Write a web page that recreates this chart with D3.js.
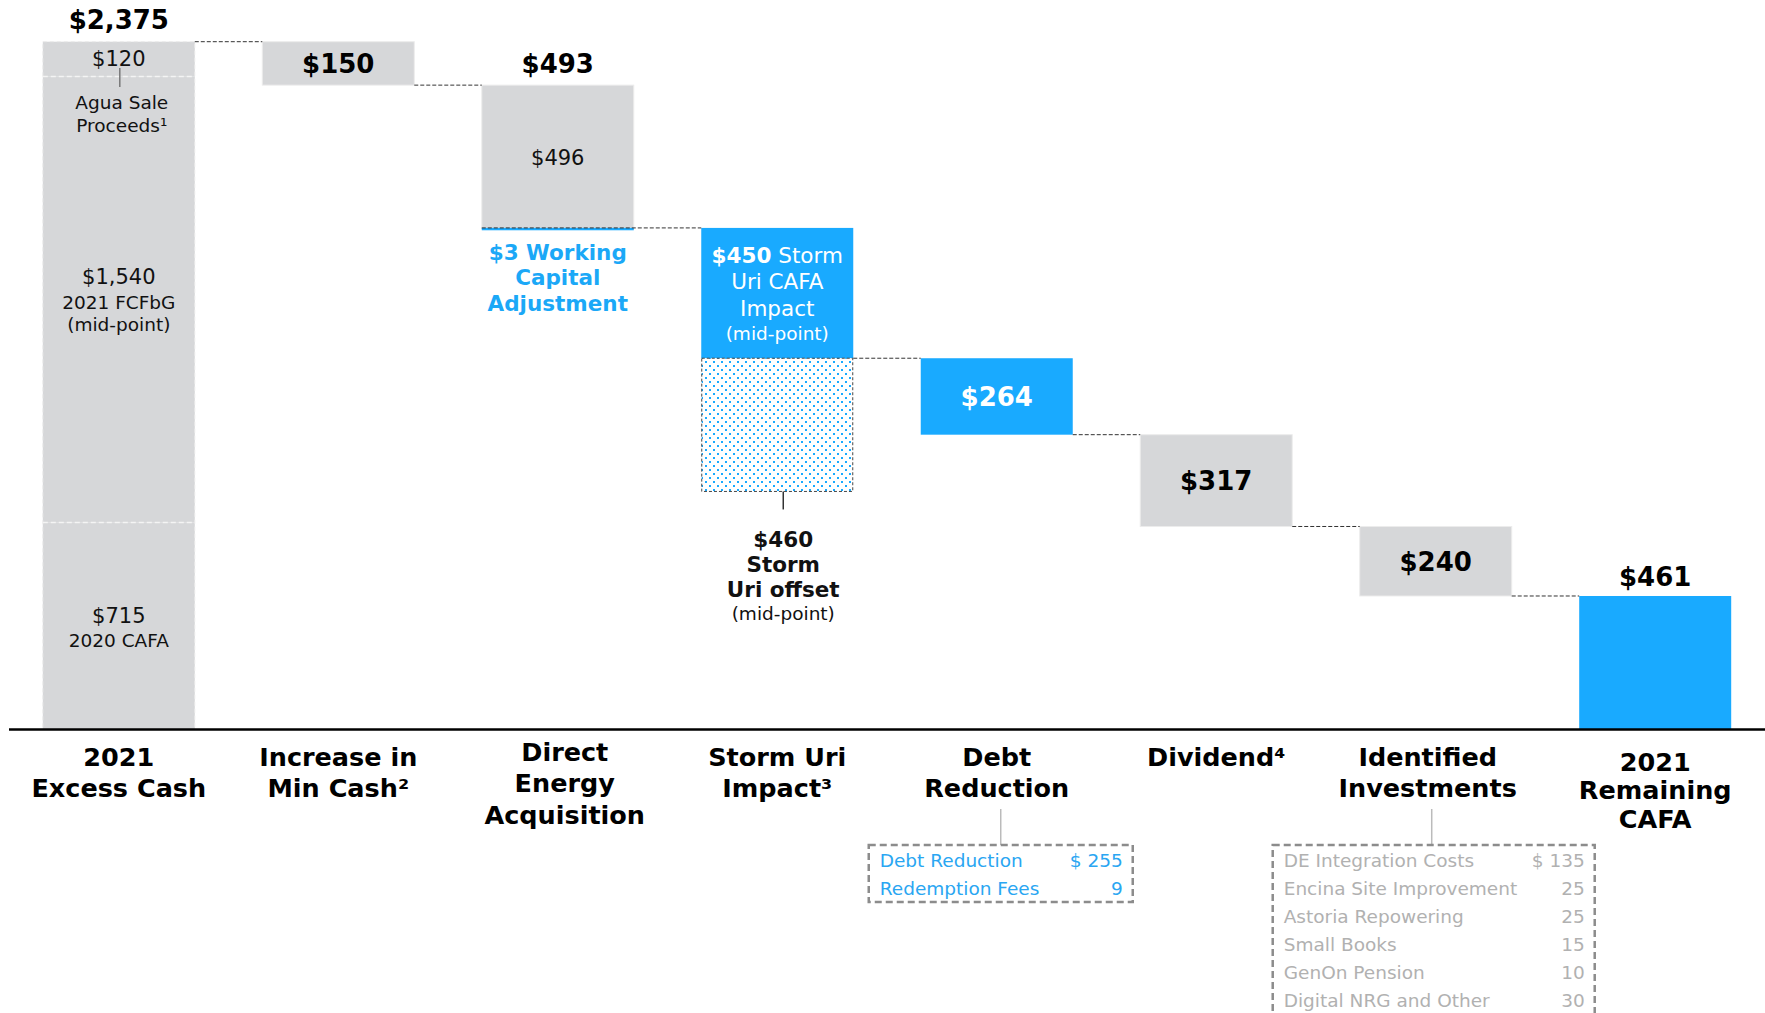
<!DOCTYPE html>
<html>
<head>
<meta charset="utf-8">
<script src="https://cdnjs.cloudflare.com/ajax/libs/d3/7.8.5/d3.min.js"></script>
<style>
  body { margin: 0; background: #fff; }
  svg { display: block; font-family: 'DejaVu Sans', Verdana, sans-serif; }
</style>
</head>
<body>
<div id="chart"></div>
<script>
const categories = ['2021 Excess Cash', 'Increase in Min Cash', 'Direct Energy Acquisition', 'Storm Uri Impact',
  'Debt Reduction', 'Dividend', 'Identified Investments', '2021 Remaining CAFA'];
const categoryLines = [['2021', 'Excess Cash'], ['Increase in', 'Min Cash²'], ['Direct', 'Energy', 'Acquisition'],
  ['Storm Uri', 'Impact³'], ['Debt', 'Reduction'], ['Dividend⁴'], ['Identified', 'Investments'], ['2021', 'Remaining', 'CAFA']];

// 2021 excess cash, stacked bottom to top
const excessParts = [715, 1540, 120];
const excessLabels = [['$715', '2020 CAFA'], ['$1,540', '2021 FCFbG', '(mid-point)'], ['$120']];

const minCash = 150;
const directEnergy = 496;
const workingCapital = 3;
const stormUri = 450;
const stormUriOffset = 460;
const debtReduction = 264;
const dividend = 317;
const investments = 240;
const remainingCafa = 461;

const debtItems = ['Debt Reduction', 'Redemption Fees'];
const debtValues = ['$ 255', '9'];
const investItems = ['DE Integration Costs', 'Encina Site Improvement', 'Astoria Repowering', 'Small Books',
  'GenOn Pension', 'Digital NRG and Other'];
const investValues = ['$ 135', '25', '25', '15', '10', '30'];

const GREY = '#d6d7d9';
const BLUE = '#19aaff';
const TEXT_BLUE = '#1ba8f7';

Waterfall = function(_parentElement) {
  this.parentElement = _parentElement;
  this.initVis();
};

Waterfall.prototype.initVis = function() {
  let vis = this;

  vis.width = 1765;
  vis.height = 1013;

  vis.svg = d3
    .select(vis.parentElement)
    .append('svg')
    .attr('width', vis.width)
    .attr('height', vis.height);

  // dotted fill for the storm uri offset
  const pattern = vis.svg
    .append('defs')
    .append('pattern')
    .attr('id', 'dots')
    .attr('patternUnits', 'userSpaceOnUse')
    .attr('width', 8)
    .attr('height', 8);
  pattern.append('rect').attr('width', 8).attr('height', 8).attr('fill', '#fff');
  pattern.append('rect').attr('x', 1).attr('y', 1).attr('width', 2).attr('height', 2).attr('fill', BLUE);
  pattern.append('rect').attr('x', 5).attr('y', 5).attr('width', 2).attr('height', 2).attr('fill', BLUE);

  vis.total = d3.sum(excessParts);

  vis.x = d3
    .scaleBand()
    .domain(categories)
    .range([42.8, 1731.2])
    .paddingInner(0.3075);
  vis.y = d3
    .scaleLinear()
    .domain([0, vis.total])
    .range([729.5, 41.7]);

  vis.g = vis.svg.append('g');

  vis.wrangleData();
};

Waterfall.prototype.wrangleData = function() {
  let vis = this;

  let level = vis.total;
  vis.bars = [];
  const step = (i, amount, fill, label, labelColor) => {
    vis.bars.push({ cat: categories[i], top: level, bottom: level - amount, fill, label, labelColor });
    level -= amount;
  };

  step(1, minCash, GREY, '$' + minCash, '#000');
  step(2, directEnergy, GREY, null, '#000');
  vis.directBottom = level;
  level += workingCapital;
  step(3, stormUri, BLUE, null, '#fff');
  step(4, debtReduction, BLUE, '$' + debtReduction, '#fff');
  step(5, dividend, GREY, '$' + dividend, '#000');
  step(6, investments, GREY, '$' + investments, '#000');

  vis.levels = [vis.total].concat(vis.bars.map((d, i) => (i === 1 ? d.bottom + workingCapital : d.bottom)));

  vis.updateVis();
};

Waterfall.prototype.updateVis = function() {
  let vis = this;
  const bw = vis.x.bandwidth();
  const cx = c => vis.x(c) + bw / 2;

  // Excess cash stacked column
  const stack = [];
  let acc = 0;
  excessParts.forEach((v, i) => {
    stack.push({ y0: acc, y1: acc + v, labels: excessLabels[i] });
    acc += v;
  });

  vis.g
    .selectAll('rect.excess')
    .data(stack)
    .enter()
    .append('rect')
    .attr('class', 'excess')
    .attr('x', vis.x(categories[0]))
    .attr('y', d => vis.y(d.y1))
    .attr('width', bw)
    .attr('height', d => vis.y(d.y0) - vis.y(d.y1))
    .attr('fill', GREY);
  vis.g
    .append('rect')
    .attr('x', vis.x(categories[0]))
    .attr('y', vis.y(vis.total))
    .attr('width', bw)
    .attr('height', vis.y(0) - vis.y(vis.total))
    .attr('fill', 'none')
    .attr('stroke', '#ebebeb')
    .attr('stroke-dasharray', '4,3');
  vis.g
    .selectAll('line.divider')
    .data(stack.slice(1))
    .enter()
    .append('line')
    .attr('class', 'divider')
    .attr('x1', vis.x(categories[0]))
    .attr('x2', vis.x(categories[0]) + bw)
    .attr('y1', d => vis.y(d.y0))
    .attr('y2', d => vis.y(d.y0))
    .attr('stroke', '#f4f4f4')
    .attr('stroke-width', 1.5)
    .attr('stroke-dasharray', '5,3');

  const c0 = cx(categories[0]);
  // $715 and $1,540 labels centred in their sections
  [0, 1].forEach(i => {
    const mid = (vis.y(stack[i].y0) + vis.y(stack[i].y1)) / 2;
    const offs = i === 0 ? [-3, 21] : [-15, 10, 32];
    stack[i].labels.forEach((t, j) => {
      vis.g
        .append('text')
        .attr('x', c0)
        .attr('y', mid + offs[j])
        .attr('text-anchor', 'middle')
        .attr('font-size', j === 0 ? '21px' : '18.5px')
        .attr('fill', '#111')
        .text(t);
    });
  });
  // $120 Agua sale
  const aguaMid = (vis.y(stack[2].y0) + vis.y(stack[2].y1)) / 2;
  vis.g
    .append('text')
    .attr('x', c0)
    .attr('y', aguaMid + 7)
    .attr('text-anchor', 'middle')
    .attr('font-size', '21px')
    .attr('fill', '#111')
    .text(stack[2].labels[0]);
  vis.g
    .append('line')
    .attr('x1', c0 + 1)
    .attr('x2', c0 + 1)
    .attr('y1', aguaMid + 9)
    .attr('y2', aguaMid + 28)
    .attr('stroke', '#777')
    .attr('stroke-width', 1.5);
  ['Agua Sale', 'Proceeds¹'].forEach((t, j) => {
    vis.g
      .append('text')
      .attr('x', c0 + 3)
      .attr('y', aguaMid + 50 + j * 23)
      .attr('text-anchor', 'middle')
      .attr('font-size', '18.5px')
      .attr('fill', '#111')
      .text(t);
  });
  vis.g
    .append('text')
    .attr('x', c0)
    .attr('y', vis.y(vis.total) - 13)
    .attr('text-anchor', 'middle')
    .attr('font-size', '26px')
    .attr('font-weight', 'bold')
    .text('$' + d3.format(',')(vis.total));

  // Floating bars
  vis.g
    .selectAll('rect.step')
    .data(vis.bars)
    .enter()
    .append('rect')
    .attr('class', 'step')
    .attr('x', d => vis.x(d.cat))
    .attr('y', d => vis.y(d.top))
    .attr('width', bw)
    .attr('height', d => vis.y(d.bottom) - vis.y(d.top))
    .attr('fill', d => d.fill)
    .attr('stroke', d => (d.fill === GREY ? '#ececec' : 'none'));

  vis.g
    .selectAll('text.step')
    .data(vis.bars.filter(d => d.label))
    .enter()
    .append('text')
    .attr('class', 'step')
    .attr('x', d => cx(d.cat))
    .attr('y', d => (vis.y(d.top) + vis.y(d.bottom)) / 2)
    .attr('dy', '0.36em')
    .attr('text-anchor', 'middle')
    .attr('font-size', '26px')
    .attr('font-weight', 'bold')
    .attr('fill', d => d.labelColor)
    .text(d => d.label);

  // Final column
  const last = categories[7];
  vis.g
    .append('rect')
    .attr('x', vis.x(last))
    .attr('y', vis.y(remainingCafa))
    .attr('width', bw)
    .attr('height', vis.y(0) - vis.y(remainingCafa))
    .attr('fill', BLUE);
  vis.g
    .append('text')
    .attr('x', cx(last))
    .attr('y', vis.y(remainingCafa) - 10)
    .attr('text-anchor', 'middle')
    .attr('font-size', '26px')
    .attr('font-weight', 'bold')
    .text('$' + remainingCafa);

  // Direct energy: gross label, net label, working capital sliver
  const de = vis.bars[1];
  vis.g
    .append('text')
    .attr('x', cx(de.cat))
    .attr('y', (vis.y(de.top) + vis.y(de.bottom)) / 2)
    .attr('dy', '0.36em')
    .attr('text-anchor', 'middle')
    .attr('font-size', '21px')
    .attr('fill', '#111')
    .text('$' + directEnergy);
  vis.g
    .append('text')
    .attr('x', cx(de.cat))
    .attr('y', vis.y(de.top) - 12)
    .attr('text-anchor', 'middle')
    .attr('font-size', '26px')
    .attr('font-weight', 'bold')
    .text('$' + (directEnergy - workingCapital));
  vis.g
    .append('rect')
    .attr('x', vis.x(de.cat))
    .attr('y', vis.y(vis.directBottom + workingCapital))
    .attr('width', bw)
    .attr('height', vis.y(vis.directBottom) - vis.y(vis.directBottom + workingCapital) + 1.5)
    .attr('fill', BLUE);
  ['$' + workingCapital + ' Working', 'Capital', 'Adjustment'].forEach((t, j) => {
    vis.g
      .append('text')
      .attr('x', cx(de.cat))
      .attr('y', vis.y(vis.directBottom) + 31 + j * 25.5)
      .attr('text-anchor', 'middle')
      .attr('font-size', '21.5px')
      .attr('font-weight', 'bold')
      .attr('fill', TEXT_BLUE)
      .text(t);
  });

  // Storm Uri: offset box and labels
  const su = vis.bars[2];
  const offBottom = su.bottom - stormUriOffset;
  vis.g
    .append('rect')
    .attr('x', vis.x(su.cat) + 0.5)
    .attr('y', vis.y(su.bottom))
    .attr('width', bw - 1)
    .attr('height', vis.y(offBottom) - vis.y(su.bottom))
    .attr('fill', 'url(#dots)')
    .attr('stroke', '#444')
    .attr('stroke-dasharray', '3,2');
  const suLines = [[['$' + stormUri, true], [' Storm', false]], [['Uri CAFA', false]], [['Impact', false]], [['(mid-point)', false]]];
  suLines.forEach((parts, j) => {
    const t = vis.g
      .append('text')
      .attr('x', cx(su.cat))
      .attr('y', vis.y(su.top) + 35 + j * 26.5 - (j === 3 ? 2 : 0))
      .attr('text-anchor', 'middle')
      .attr('font-size', j === 3 ? '18.5px' : '21.5px')
      .attr('fill', '#fff');
    parts.forEach(p => {
      t.append('tspan').attr('font-weight', p[1] ? 'bold' : 'normal').text(p[0]);
    });
  });
  vis.g
    .append('line')
    .attr('x1', cx(su.cat) + 6)
    .attr('x2', cx(su.cat) + 6)
    .attr('y1', vis.y(offBottom))
    .attr('y2', vis.y(offBottom) + 18)
    .attr('stroke', '#333')
    .attr('stroke-width', 1.5);
  ['$' + stormUriOffset, 'Storm', 'Uri offset', '(mid-point)'].forEach((t, j) => {
    vis.g
      .append('text')
      .attr('x', cx(su.cat) + 6)
      .attr('y', vis.y(offBottom) + 56 + j * 25 - (j === 3 ? 2 : 0))
      .attr('text-anchor', 'middle')
      .attr('font-size', j === 3 ? '18.5px' : '21.5px')
      .attr('font-weight', j === 3 ? 'normal' : 'bold')
      .attr('fill', '#111')
      .text(t);
  });

  // Connectors
  vis.g
    .selectAll('line.connector')
    .data(vis.levels)
    .enter()
    .append('line')
    .attr('class', 'connector')
    .attr('x1', (d, i) => vis.x(categories[i]) + (i === 2 ? 0 : bw))
    .attr('x2', (d, i) => vis.x(categories[i + 1]))
    .attr('y1', d => vis.y(d))
    .attr('y2', d => vis.y(d))
    .attr('stroke', '#333')
    .attr('stroke-dasharray', '4,2');

  // Baseline
  vis.g
    .append('line')
    .attr('x1', 9)
    .attr('x2', vis.width)
    .attr('y1', vis.y(0))
    .attr('y2', vis.y(0))
    .attr('stroke', '#000')
    .attr('stroke-width', 2.5);

  // Category labels
  const nudgeY = { 2: -5, 7: 5 };
  const nudgeX = { 2: 7, 6: -8 };
  categoryLines.forEach((lines, i) => {
    lines.forEach((t, j) => {
      vis.g
        .append('text')
        .attr('x', cx(categories[i]) + (nudgeX[i] || 0))
        .attr('y', vis.y(0) + 36 + (nudgeY[i] || 0) + j * (i === 7 ? 28.5 : 31.5))
        .attr('text-anchor', 'middle')
        .attr('font-size', '25.5px')
        .attr('font-weight', 'bold')
        .attr('fill', '#000')
        .text(t);
    });
  });

  // Breakdown boxes
  const drawBox = (cat, items, values, color, left, right, leaderX) => {
    const top = vis.y(0) + 115.5;
    const rowH = 28;
    const boxH = items.length === 2 ? 57 : 190;
    vis.g
      .append('line')
      .attr('x1', leaderX)
      .attr('x2', leaderX)
      .attr('y1', top - 36)
      .attr('y2', top)
      .attr('stroke', '#bbb')
      .attr('stroke-width', 1.5);
    vis.g
      .append('rect')
      .attr('x', left)
      .attr('y', top)
      .attr('width', right - left)
      .attr('height', boxH)
      .attr('fill', 'none')
      .attr('stroke', '#8c8c8c')
      .attr('stroke-width', 2.5)
      .attr('stroke-dasharray', '7,4');
    items.forEach((t, j) => {
      vis.g
        .append('text')
        .attr('x', left + 11)
        .attr('y', top + 21.5 + j * rowH)
        .attr('font-size', '18.5px')
        .attr('fill', color)
        .text(t);
      vis.g
        .append('text')
        .attr('x', right - 10)
        .attr('y', top + 21.5 + j * rowH)
        .attr('text-anchor', 'end')
        .attr('font-size', '18.5px')
        .attr('fill', color)
        .text(values[j]);
    });
  };
  const dc = cx(categories[4]);
  drawBox(categories[4], debtItems, debtValues, '#2aa6f2', dc - 128, dc + 136, dc + 4);
  const ic = cx(categories[6]);
  drawBox(categories[6], investItems, investValues, '#b1b1b1', ic - 163, ic + 159, ic - 4);
};

new Waterfall('#chart');
</script>
</body>
</html>
